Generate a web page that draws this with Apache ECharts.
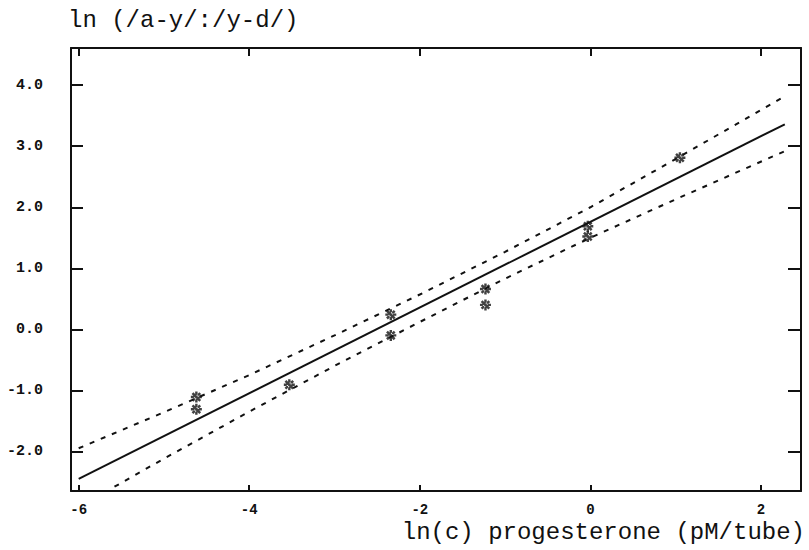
<!DOCTYPE html>
<html>
<head>
<meta charset="utf-8">
<script src="https://cdn.jsdelivr.net/npm/echarts@6/dist/echarts.min.js"></script>
<style>
html,body{margin:0;padding:0;background:#fff;}
#chart{width:809px;height:550px;}
</style>
</head>
<body>
<div id="chart"></div>
<script>
// Observed points (ln c, ln(|a-y|/|y-d|))
const obsX = [-4.62, -4.62, -3.53, -2.34, -2.34, -1.23, -1.23, -0.03, -0.03, 1.05];
const obsY = [-1.11, -1.31, -0.91, 0.24, -0.10, 0.66, 0.40, 1.69, 1.52, 2.81];
// Regression line
const fitX = [-6.0, 2.28];
const fitY = [-2.45, 3.36];
// Confidence band (dashed)
const upperX = [-6.0, -5.0, -4.0, -3.0, -2.0, -1.0, 0.0, 1.0, 2.28];
const upperY = [-1.95, -1.36, -0.75, -0.10, 0.57, 1.27, 2.00, 2.79, 3.82];
const lowerX = [-5.58, -5.0, -4.0, -3.0, -2.0, -1.0, 0.0, 1.0, 2.28];
const lowerY = [-2.58, -2.12, -1.35, -0.60, 0.12, 0.83, 1.50, 2.13, 2.92];
// Tick labels
const xTicks = [-6, -4, -2, 0, 2];
const yTicks = [-2, -1, 0, 1, 2, 3, 4];
const xName = 'ln(c) progesterone (pM/tube)';
const yName = 'ln (/a-y/:/y-d/)';

const zip = (a, b) => a.map((v, i) => [v, b[i]]);
const INK = '#111';
const MONO = '"Liberation Mono", "DejaVu Sans Mono", monospace';
const XMIN = -6.09, XMAX = 2.47, YMIN = -2.65, YMAX = 4.61;

const asterisk = 'path://M-1.1,-5L1.1,-5L1.1,5L-1.1,5Z M-5,-1.1L5,-1.1L5,1.1L-5,1.1Z M-4.3,-2.7L-2.7,-4.3L4.3,2.7L2.7,4.3Z M4.3,-2.7L2.7,-4.3L-4.3,2.7L-2.7,4.3Z';

const lineOf = {show: true, onZero: false, lineStyle: {color: INK, width: 2}};
const chart = echarts.init(document.getElementById('chart'), null, {renderer: 'svg'});
chart.setOption({
  animation: false,
  backgroundColor: '#fff',
  grid: {left: 71, right: 8, top: 48, bottom: 59},
  xAxis: [
    {
      type: 'value', position: 'bottom', min: XMIN, max: XMAX,
      splitLine: {show: false},
      axisLine: lineOf,
      axisTick: {show: true, inside: true, length: 6, customValues: xTicks, lineStyle: {color: INK, width: 2}},
      axisLabel: {customValues: xTicks, margin: 12, color: INK, fontFamily: MONO, fontWeight: 'bold', fontSize: 14,
        formatter: v => String(Math.round(v))}
    },
    {
      type: 'value', position: 'top', min: XMIN, max: XMAX,
      splitLine: {show: false},
      axisLine: lineOf,
      axisTick: {show: true, inside: true, length: 8, customValues: xTicks, lineStyle: {color: INK, width: 2}},
      axisLabel: {show: false}
    }
  ],
  yAxis: [
    {
      type: 'value', position: 'left', min: YMIN, max: YMAX,
      splitLine: {show: false},
      axisLine: lineOf,
      axisTick: {show: true, inside: true, length: 12, customValues: yTicks, lineStyle: {color: INK, width: 2}},
      axisLabel: {customValues: yTicks, margin: 28, color: INK, fontFamily: MONO, fontWeight: 'bold', fontSize: 15,
        formatter: v => v.toFixed(1)}
    },
    {
      type: 'value', position: 'right', min: YMIN, max: YMAX,
      splitLine: {show: false},
      axisLine: lineOf,
      axisTick: {show: true, inside: true, length: 13, customValues: yTicks, lineStyle: {color: INK, width: 2}},
      axisLabel: {show: false}
    }
  ],
  graphic: [
    {type: 'text', left: 68, top: 8, style: {text: yName, font: '24px ' + MONO, fill: INK}},
    {type: 'text', right: 4, top: 520, style: {text: xName, font: '24px ' + MONO, fill: INK}}
  ],
  series: [
    {type: 'line', data: zip(fitX, fitY), symbol: 'none', lineStyle: {color: INK, width: 2}, z: 3},
    {type: 'line', data: zip(upperX, upperY), symbol: 'none', lineStyle: {color: INK, width: 2, type: [5, 7]}, z: 3},
    {type: 'line', data: zip(lowerX, lowerY), symbol: 'none', lineStyle: {color: INK, width: 2, type: [5, 7]}, z: 3},
    {type: 'scatter', data: zip(obsX, obsY), symbol: asterisk, symbolSize: 11, itemStyle: {color: INK}, z: 4}
  ]
});
</script>
</body>
</html>
